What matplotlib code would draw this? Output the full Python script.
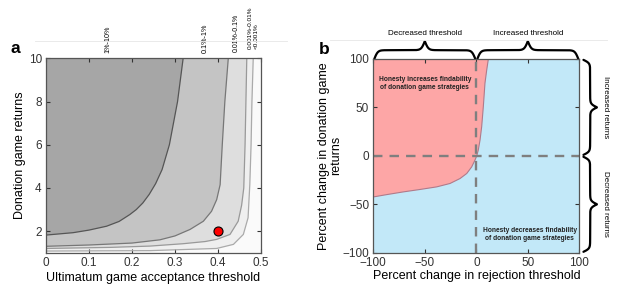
import numpy as np
import matplotlib
matplotlib.use("Agg")
from matplotlib import pyplot as plt
from matplotlib.lines import Line2D

plt.rcParams['font.family'] = ['Liberation Sans', 'DejaVu Sans']

# panel a: contour boundaries, (x, y) pairs
curve1_x = [0.0, 0.063, 0.1, 0.141, 0.17, 0.195, 0.21, 0.225, 0.24, 0.255, 0.27, 0.287, 0.306, 0.319]
curve1_y = [1.82, 1.93, 2.05, 2.23, 2.45, 2.77, 3.0, 3.3, 3.7, 4.2, 4.85, 6.0, 8.0, 10.0]
curve2_x = [0.0, 0.1, 0.2, 0.265, 0.3, 0.335, 0.366, 0.385, 0.397, 0.405, 0.41, 0.416, 0.424]
curve2_y = [1.3, 1.36, 1.45, 1.6, 1.78, 2.08, 2.46, 2.92, 3.46, 4.15, 6.0, 8.0, 10.0]
curve3_x = [0.0, 0.15, 0.242, 0.319, 0.37, 0.397, 0.428, 0.447, 0.455, 0.46, 0.463, 0.467]
curve3_y = [1.2, 1.25, 1.31, 1.42, 1.52, 1.62, 1.85, 2.46, 3.2, 4.0, 6.0, 10.0]
curve4_x = [0.0, 0.242, 0.397, 0.436, 0.459, 0.47, 0.474, 0.477, 0.479, 0.482]
curve4_y = [1.08, 1.1, 1.2, 1.39, 1.85, 2.62, 4.15, 6.0, 8.0, 10.0]
band_labels = ['1%-10%', '0.1%-1%', '0.01%-0.1%', '0.001%-0.01%', '<0.001%']
band_label_x = [0.145, 0.37, 0.443, 0.474, 0.489]
band_label_y = [10.25, 10.25, 10.28, 10.45, 10.45]
band_label_size = [5.2, 5.2, 5.0, 4.6, 4.6]
point_x, point_y = [0.4], [2.0]

# panel b: boundary between the two regions
bound_x = [11.7, 10.1, 8.4, 6.8, 5.2, 3.6, 1.9, 0.4, -1.3, -4.5, -9.3, -15.8, -25.5, -38.4, -54.7, -70.9, -87.0, -100.0]
bound_y = [100, 88.6, 74.9, 50.7, 30, 16.2, 5.9, 0, -4.4, -11.4, -18.2, -23.4, -28.5, -32, -34.7, -37.2, -40, -42.4]

fig = plt.figure(figsize=(6.23, 2.96), dpi=100)

ax = fig.add_axes([0.0738, 0.146, 0.3451, 0.657])
ax.set_facecolor('#fafafa')
fills = ['#efefef', '#dedede', '#c4c4c4', '#a6a6a6']
edges = ['#aaaaaa', '#999999', '#777777', '#555555']
curves = [(curve4_x, curve4_y), (curve3_x, curve3_y), (curve2_x, curve2_y), (curve1_x, curve1_y)]
for (cx, cy), fc, ec in zip(curves, fills, edges):
    ax.fill(list(cx) + [0.0], list(cy) + [10.0], color=fc, lw=0)
    ax.plot(cx, cy, color=ec, lw=0.9)
ax.plot(point_x, point_y, 'o', ms=6.5, mfc='red', mec='black', mew=0.8)
ax.set_xlim(0, 0.5)
ax.set_ylim(1, 10)
ax.set_xticks([0, 0.1, 0.2, 0.3, 0.4, 0.5])
ax.set_xticklabels(['0', '0.1', '0.2', '0.3', '0.4', '0.5'])
ax.set_yticks([2, 4, 6, 8, 10])
ax.set_xlabel('Ultimatum game acceptance threshold', fontsize=9, labelpad=2)
ax.set_ylabel('Donation game returns', fontsize=9, labelpad=2)
for lx, ly, lt, fs in zip(band_label_x, band_label_y, band_labels, band_label_size):
    ax.text(lx, ly, lt, rotation=90, ha='center', va='bottom', fontsize=fs)
ax.text(-0.165, 1.01, 'a', transform=ax.transAxes, fontsize=12.5, fontweight='bold', va='bottom')

bx = fig.add_axes([0.5992, 0.146, 0.3307, 0.655])
bx.set_facecolor('#c2e8f8')
bx.fill(bound_x + [-100.0], bound_y + [100.0], color='#fda6a6', lw=0)
bx.plot(bound_x, bound_y, color='#b07a8a', lw=0.8)
bx.axvline(0, color='#7f7f7f', lw=1.7, ls=(0, (4, 3)))
bx.axhline(0, color='#7f7f7f', lw=1.7, ls=(0, (4, 3)))
bx.set_xlim(-100, 100)
bx.set_ylim(-100, 100)
bx.set_xticks([-100, -50, 0, 50, 100])
bx.set_yticks([-100, -50, 0, 50, 100])
bx.set_xlabel('Percent change in rejection threshold', fontsize=9, labelpad=1)
bx.set_ylabel('Percent change in donation game\nreturns', fontsize=9, labelpad=0, linespacing=1.0)
bx.text(-50, 75, 'Honesty increases findability\nof donation game strategies',
        ha='center', va='center', fontsize=4.8, fontweight='bold', color='#222222')
bx.text(52, -81, 'Honesty decreases findability\nof donation game strategies',
        ha='center', va='center', fontsize=4.8, fontweight='bold', color='#222222')
bx.text(-0.265, 1.01, 'b', transform=bx.transAxes, fontsize=12.5, fontweight='bold', va='bottom')


def brace(a, t0, t1, base, tip, vertical=False):
    # curly brace between t0 and t1 (data), base/tip in axes fraction
    n = 200
    t = np.linspace(t0, t1, 2 * n)
    beta = 0.6
    h = t[:n]
    s = 1 / (1 + np.exp(-beta * (h - h[0]))) + 1 / (1 + np.exp(-beta * (h - h[-1])))
    s = np.concatenate([s, s[::-1]])
    s = (s - s.min()) / (s.max() - s.min())
    u = base + s * (tip - base)
    if vertical:
        tr = a.get_yaxis_transform()
        a.plot(u, t, color='black', lw=1.6, transform=tr, clip_on=False, solid_capstyle='round')
    else:
        tr = a.get_xaxis_transform()
        a.plot(t, u, color='black', lw=1.6, transform=tr, clip_on=False, solid_capstyle='round')


brace(bx, -99, -1, 1.0, 1.09)
brace(bx, 1, 99, 1.0, 1.09)
bx.text(-50, 1.13, 'Decreased threshold', transform=bx.get_xaxis_transform(), ha='center', va='center', fontsize=5.8)
bx.text(50, 1.13, 'Increased threshold', transform=bx.get_xaxis_transform(), ha='center', va='center', fontsize=5.8)
brace(bx, 1, 99, 1.02, 1.085, vertical=True)
brace(bx, -99, -1, 1.02, 1.085, vertical=True)
bx.text(1.125, 50, 'Increased returns', transform=bx.get_yaxis_transform(), rotation=-90, ha='center', va='center', fontsize=5.8)
bx.text(1.125, -50, 'Decreased returns', transform=bx.get_yaxis_transform(), rotation=-90, ha='center', va='center', fontsize=5.8)

for a in (ax, bx):
    a.tick_params(direction='in', top=True, right=True, length=3, width=0.8, labelsize=8.5, pad=3, colors='#333333')
    for sp in a.spines.values():
        sp.set_color('#555555')
        sp.set_linewidth(0.9)

fig.add_artist(Line2D([0.056, 0.461], [0.863, 0.863], color='#e6e6e6', lw=0.6))
fig.add_artist(Line2D([0.53, 0.975], [0.865, 0.865], color='#e6e6e6', lw=0.6))

fig.savefig('out.png', dpi=100)
